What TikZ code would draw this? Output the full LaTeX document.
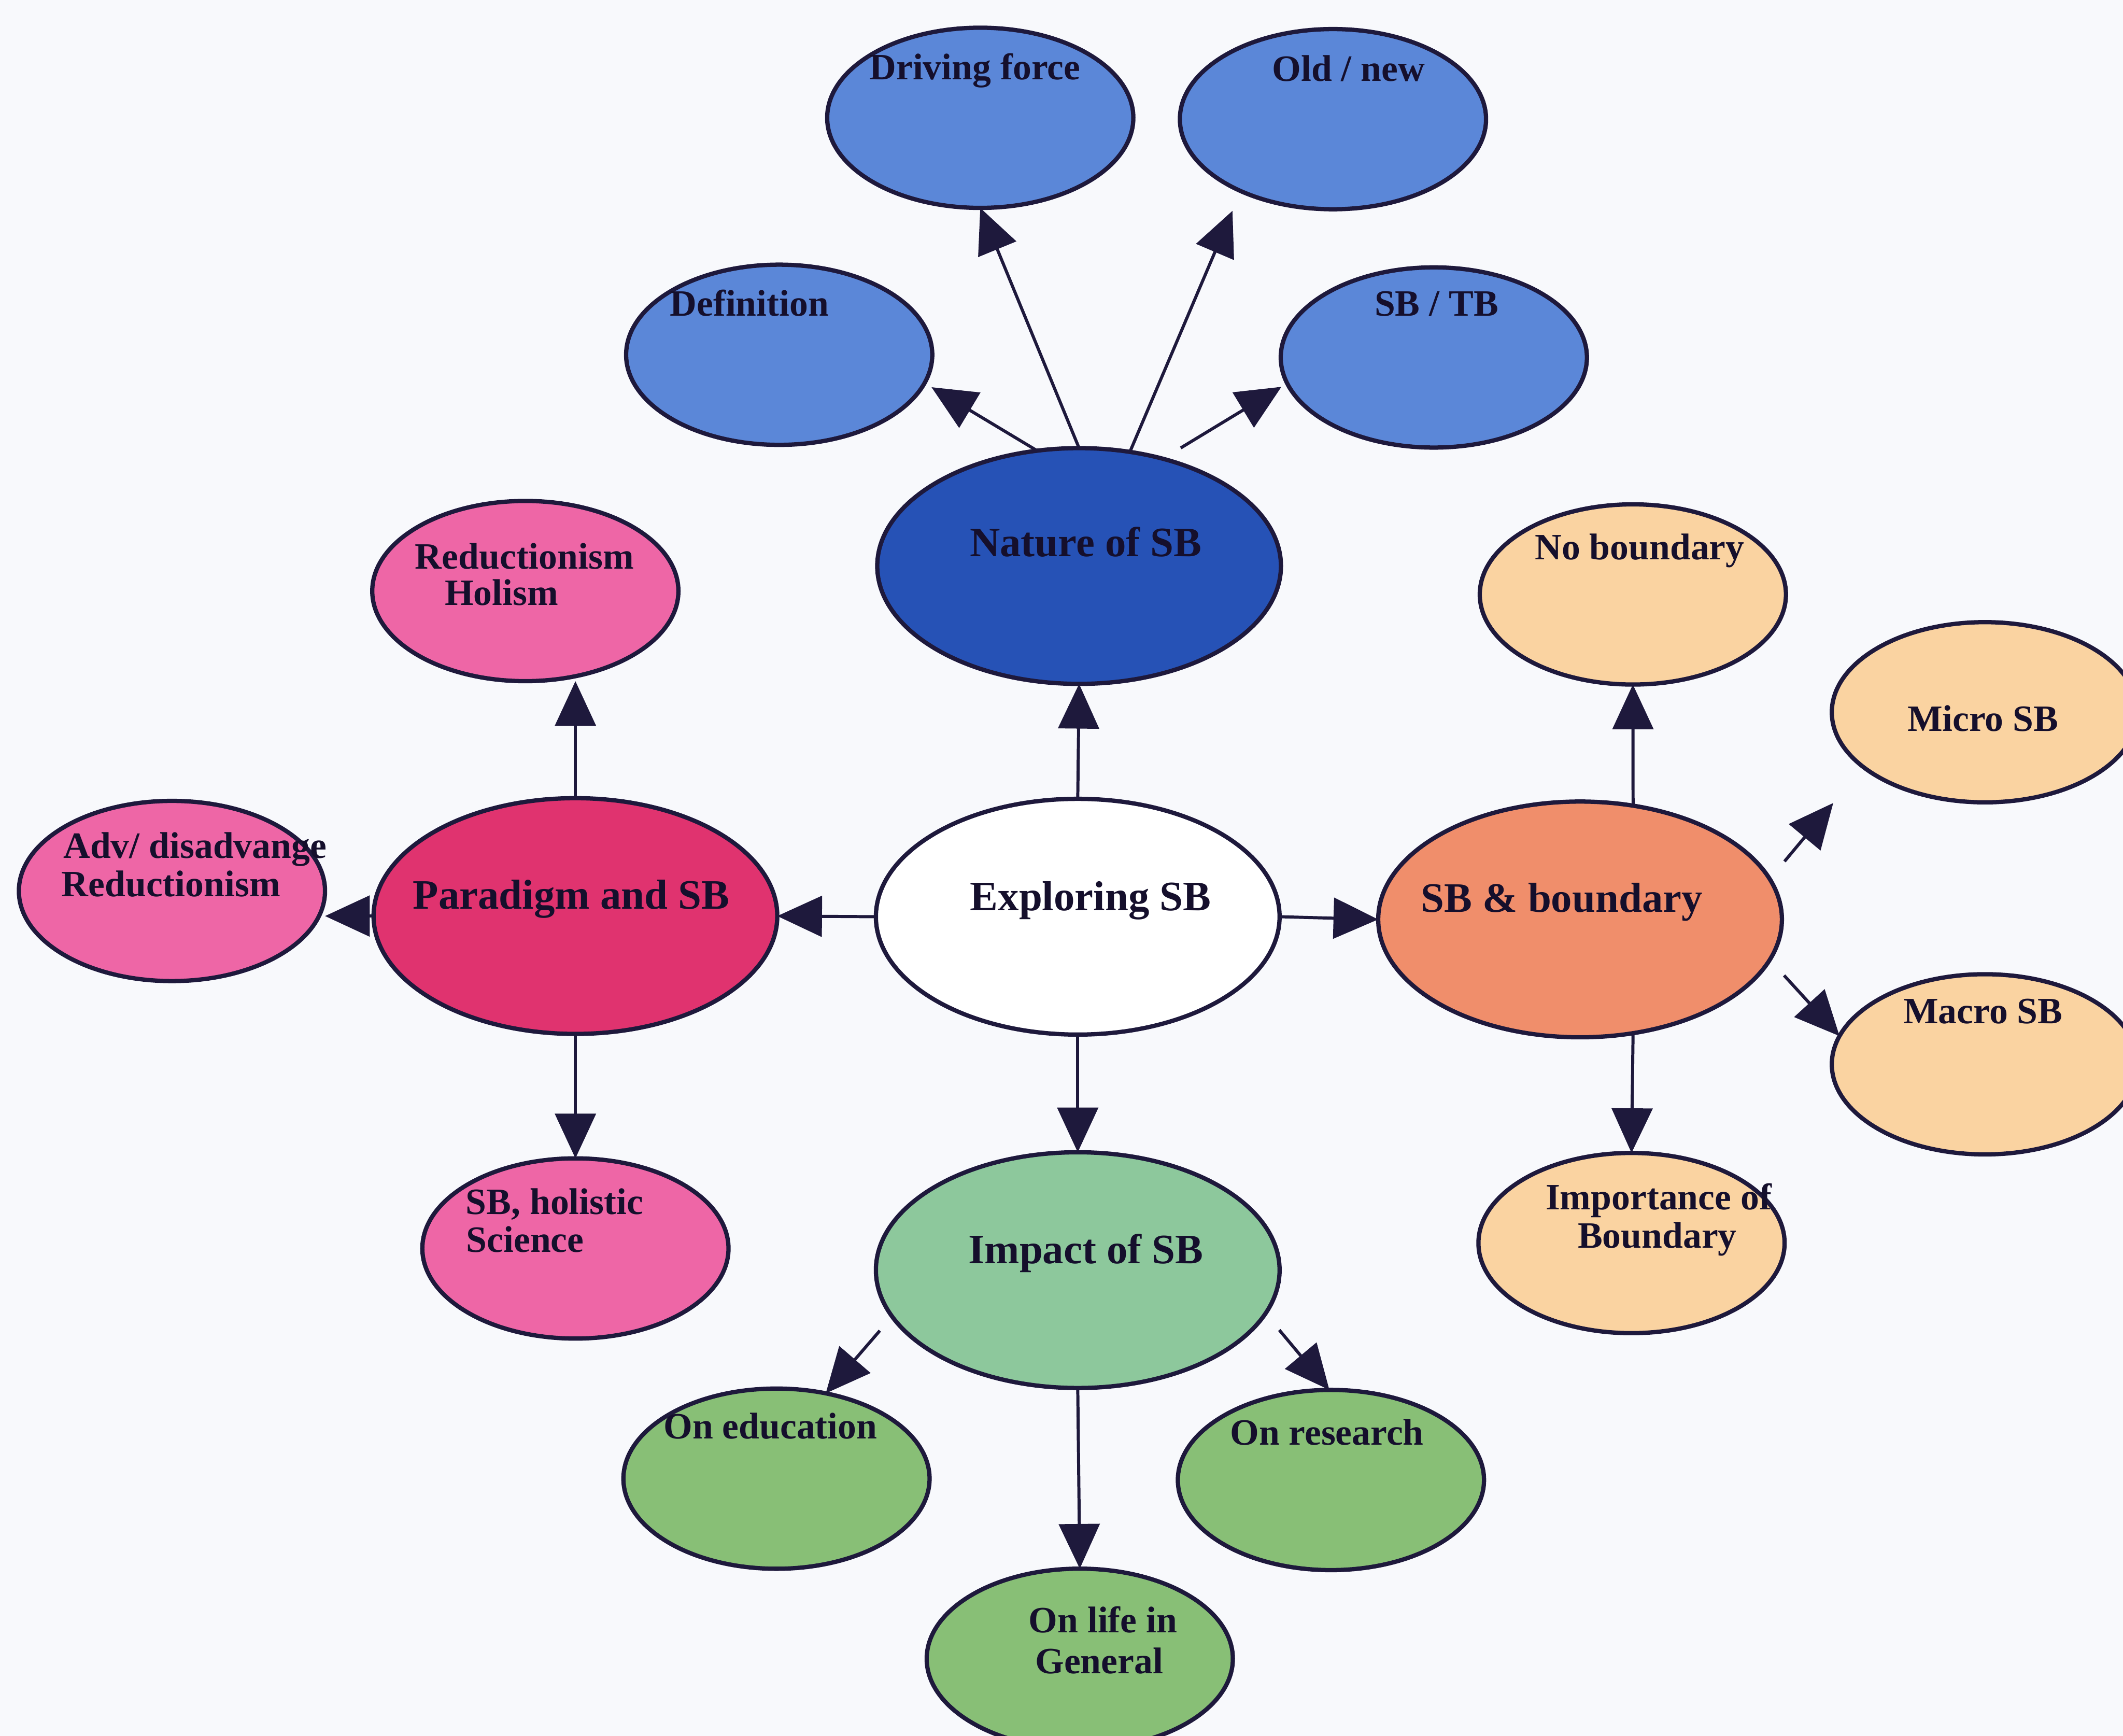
\documentclass[tikz,border=0pt]{standalone}
\usepackage{fontspec}
\setmainfont{Liberation Serif}
\usetikzlibrary{shapes.geometric,arrows.meta}

\definecolor{edge}{HTML}{1E193C}
\definecolor{txt}{HTML}{150F2C}
\definecolor{paper}{HTML}{F8F9FC}
\definecolor{bluesm}{HTML}{5B87D8}
\definecolor{bluebig}{HTML}{2652B6}
\definecolor{pinksm}{HTML}{EE66A6}
\definecolor{pinkbig}{HTML}{E0336F}
\definecolor{peachsm}{HTML}{FAD3A1}
\definecolor{salmon}{HTML}{F08E6B}
\definecolor{greensm}{HTML}{88BF76}
\definecolor{greenbig}{HTML}{8DC89C}

\tikzset{
  bub/.style={ellipse, draw=edge, line width=0.9pt, inner sep=0pt, outer sep=0pt},
  bigbub/.style={bub, minimum width=2.98cm, minimum height=1.74cm},
  smallbub/.style={bub, minimum width=2.26cm, minimum height=1.33cm},
  lbl/.style={inner sep=0pt, anchor=base, text=txt,
    font=\fontsize{7.8}{8}\selectfont\bfseries},
  biglbl/.style={lbl, font=\fontsize{8.8}{9}\selectfont\bfseries},
  arr/.style={draw=edge, line width=0.65pt,
    -{Triangle[length=0.33cm,width=0.30cm]}}
}

\begin{document}
\begin{tikzpicture}[x=0.01cm, y=-0.01cm]
  % page
  \fill[paper] (0,0) rectangle (1568,1282);
  \useasboundingbox (0,0) rectangle (1568,1282);

  % main bubbles
  \node[bigbub, fill=white]    (ex)  at (796,677)   {};
  \node[bigbub, fill=bluebig]  (na)  at (797,418)   {};
  \node[bigbub, fill=pinkbig]  (pa)  at (425,676.5) {};
  \node[bigbub, fill=salmon]   (sb)  at (1167,679)  {};
  \node[bigbub, fill=greenbig] (im)  at (796,938)   {};

  % nature of SB
  \node[smallbub, fill=bluesm] (df)  at (724,87)    {};
  \node[smallbub, fill=bluesm] (on)  at (984.5,88)  {};
  \node[smallbub, fill=bluesm] (de)  at (575.5,262) {};
  \node[smallbub, fill=bluesm] (st)  at (1059,264)  {};

  % paradigm
  \node[smallbub, fill=pinksm] (rh)  at (388,436.5) {};
  \node[smallbub, fill=pinksm] (ad)  at (127,658)   {};
  \node[smallbub, fill=pinksm] (sh)  at (425,922)   {};

  % boundary
  \node[smallbub, fill=peachsm] (nb) at (1206,439)  {};
  \node[smallbub, fill=peachsm] (mi) at (1466,526)  {};
  \node[smallbub, fill=peachsm] (ma) at (1466,786)  {};
  \node[smallbub, fill=peachsm] (ib) at (1205,918)  {};

  % impact
  \node[smallbub, fill=greensm] (oe)  at (573.5,1092) {};
  \node[smallbub, fill=greensm] (ors) at (983,1093)   {};
  \node[smallbub, fill=greensm] (ol)  at (797.5,1225) {};

  \coordinate (mtip) at (1354,593);

  % labels
  \node[biglbl] (t-ex) at (805.5,672.3) {Exploring SB};
  \node[biglbl] (t-na) at (802,410.8)   {Nature of SB};
  \node[biglbl] (t-pa) at (421.9,671.3) {Paradigm and SB};
  \node[biglbl] (t-sb) at (1153.5,673.6){SB \& boundary};
  \node[biglbl] (t-im) at (802,933.2)   {Impact of SB};

  \node[lbl] (t-df)  at (720,58.7)     {Driving force};
  \node[lbl] (t-on)  at (996,60.1)     {Old / new};
  \node[lbl] (t-de)  at (553.5,233.3)  {Definition};
  \node[lbl] (t-st)  at (1061,233.3)   {SB / TB};
  \node[lbl] (t-rh1) at (387.4,420.1)  {Reductionism};
  \node[lbl] (t-rh2) at (370.4,446.9)  {Holism};
  \node[lbl] (t-ad1) at (144,633.7)    {Adv/ disadvange};
  \node[lbl] (t-ad2) at (126.3,662)    {Reductionism};
  \node[lbl] (t-sh1) at (409.6,896.7)  {SB, holistic};
  \node[lbl] (t-sh2) at (387.8,924.8)  {Science};
  \node[lbl] (t-nb)  at (1211,413.1)   {No boundary};
  \node[lbl] (t-mi)  at (1464.5,539.8) {Micro SB};
  \node[lbl] (t-ma)  at (1464.6,755.8) {Macro SB};
  \node[lbl] (t-ib1) at (1225,893.4)   {Importance of};
  \node[lbl] (t-ib2) at (1224,921.5)   {Boundary};
  \node[lbl] (t-oe)  at (569,1062.4)   {On education};
  \node[lbl] (t-or)  at (980,1067)     {On research};
  \node[lbl] (t-ol1) at (814.6,1205.5) {On life in};
  \node[lbl] (t-ol2) at (811.8,1236)   {General};

  % connectors from the centre
  \draw[arr] (ex.north) -- (na.south);
  \draw[arr] (ex.west)  -- (pa.east);
  \draw[arr] (ex.east)  -- (sb.west);
  \draw[arr] (ex.south) -- (im.north);

  % nature of SB
  \draw[arr] (na.north) -- (df.south);
  \draw[arr, shorten >=0.158cm] (na.66.3) -- (on.218.2);
  \draw[arr, shorten >=0.06cm] (na.110.6) -- (de.-11);
  \draw[arr, shorten <=0.154cm, shorten >=0.05cm] (na.52.2) -- (st.190.8);

  % paradigm
  \draw[arr] (pa.north) -- (pa.north |- rh.south);
  \draw[arr] (pa.west)  -- (pa.west -| ad.east);
  \draw[arr] (pa.south) -- (sh.north);

  % boundary
  \draw[arr] (sb.65.2) -- (nb.south);
  \draw[arr] (sb.-65.2) -- (ib.north);
  \draw[arr, shorten <=0.17cm] (sb.12.7) -- (mtip);
  \draw[arr, shorten <=0.157cm] (sb.-12) -- (ma.169.4);

  % impact
  \draw[arr] (im.south) -- (ol.north);
  \draw[arr, shorten <=0.139cm] (im.-166.6) -- (oe.60.2);
  \draw[arr, shorten <=0.159cm] (im.-13.2) -- (ors.91.4);
\end{tikzpicture}
\end{document}
